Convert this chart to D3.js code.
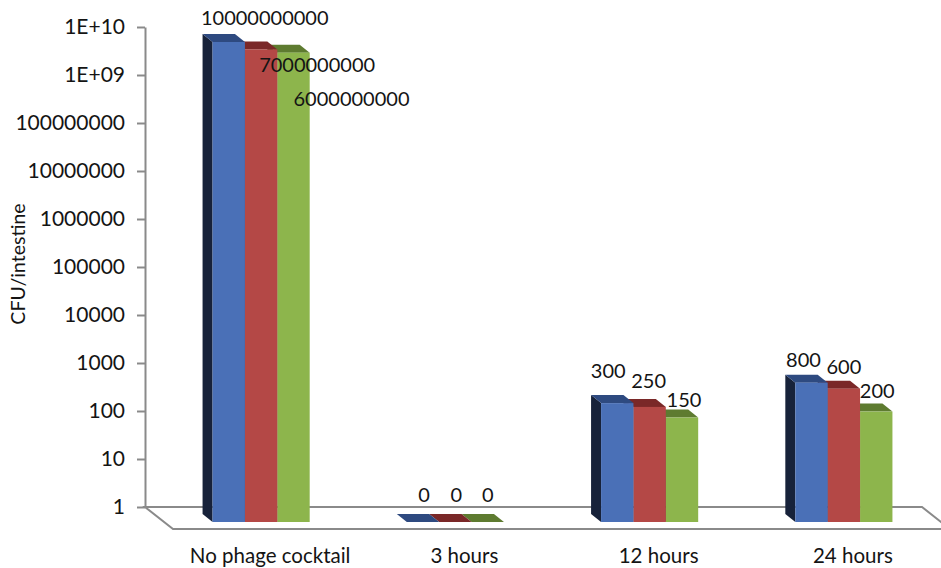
<!DOCTYPE html>
<html>
<head>
<meta charset="utf-8">
<script src="https://cdn.jsdelivr.net/npm/d3@7"></script>
<style>
  body { margin: 0; background: #fff; }
  svg { display: block; }
  text { font-family: Lato, "Open Sans", sans-serif; fill: #141414; }
</style>
</head>
<body>
<svg id="chart" width="941" height="568"></svg>
<script>
// Bacterial counts (CFU per intestine) for three replicate groups
const categories = ["No phage cocktail", "3 hours", "12 hours", "24 hours"];
const replicate1 = [10000000000, 0, 300, 800];
const replicate2 = [7000000000, 0, 250, 600];
const replicate3 = [6000000000, 0, 150, 200];
const seriesValues = [replicate1, replicate2, replicate3];

const tickValues = [1, 10, 100, 1000, 10000, 100000, 1000000, 10000000, 100000000, 1000000000, 10000000000];
const tickLabels = ["1", "10", "100", "1000", "10000", "100000", "1000000", "10000000", "100000000", "1E+09", "1E+10"];

// Data-label nudges [dx, dy] per category, per replicate (crowded labels are pushed aside)
const labelNudge = [
  [[36, -1], [56, 39], [58, 69]],
  [[1, -4], [1, -4], [0, -4]],
  [[-9, -9], [-1, -3], [2, 5]],
  [[-8, 0], [0, 1], [1, 2]]
];

const frontColors = ["#4A70B7", "#B44846", "#8DB54C"];
const topColors   = ["#2E4A80", "#7A2828", "#5E7B30"];
const sideColors  = ["#17223A", "#4A1818", "#3A4D1C"];

const svg = d3.select("#chart");

// Back wall geometry
const wallLeft = 145, wallRight = 922;
const y = d3.scaleLog().domain([1, 1e10]).range([507, 27]);

const x = d3.scaleBand().domain(categories).range([wallLeft, wallRight])
  .paddingInner(0.5).paddingOuter(0.25);
const xs = d3.scaleBand().domain(d3.range(seriesValues.length)).range([0, x.bandwidth()]);

// Oblique projection: floor depth and bar placement within it
const floorDX = 28, floorDY = 22;
const frontDX = 19, frontDY = 15;     // bar front plane relative to back wall
const depthDX = -10, depthDY = -8;    // bar front → bar back

// Floor
const base = y(1);
svg.append("path")
  .attr("d", `M${wallLeft},${base} L${wallRight},${base} L${wallRight + floorDX},${base + floorDY} L${wallLeft + floorDX},${base + floorDY} Z`)
  .attr("fill", "none").attr("stroke", "#8A8A8A").attr("stroke-width", 2);

// Y axis
const yAxis = svg.append("g")
  .attr("transform", `translate(${wallLeft},0)`)
  .call(d3.axisLeft(y).tickValues(tickValues).tickFormat((d, i) => tickLabels[i])
    .tickSize(8).tickSizeOuter(0).tickPadding(12));
yAxis.select(".domain").attr("stroke", "#8A8A8A").attr("stroke-width", 2);
yAxis.selectAll(".tick line").attr("stroke", "#8A8A8A").attr("stroke-width", 2);
yAxis.selectAll(".tick text").attr("font-size", 21).attr("font-family", "Lato, 'Open Sans', sans-serif").attr("fill", "#141414");

// Bars, drawn right to left inside each group so nearer faces overlap correctly
const bars = svg.append("g");
categories.forEach((cat, ci) => {
  for (let si = seriesValues.length - 1; si >= 0; si--) {
    const v = seriesValues[si][ci];
    const fx0 = x(cat) + xs(si) + frontDX;
    const fx1 = fx0 + xs.bandwidth();
    const fyTop = y(Math.max(v, 1)) + frontDY;
    const fyBot = base + frontDY;
    const g = bars.append("g");
    g.append("polygon")
      .attr("points", [[fx0, fyTop], [fx0 + depthDX, fyTop + depthDY], [fx0 + depthDX, fyBot + depthDY], [fx0, fyBot]].join(" "))
      .attr("fill", sideColors[si]);
    g.append("polygon")
      .attr("points", [[fx0, fyTop], [fx1, fyTop], [fx1 + depthDX, fyTop + depthDY], [fx0 + depthDX, fyTop + depthDY]].join(" "))
      .attr("fill", topColors[si]);
    if (fyBot > fyTop) {
      g.append("rect").attr("x", fx0).attr("y", fyTop)
        .attr("width", xs.bandwidth()).attr("height", fyBot - fyTop)
        .attr("fill", frontColors[si]);
    }
  }
});

// Data labels
const labels = svg.append("g").attr("font-size", 20).attr("text-anchor", "middle");
categories.forEach((cat, ci) => {
  seriesValues.forEach((vals, si) => {
    const v = vals[ci];
    const cx = x(cat) + xs(si) + xs.bandwidth() / 2 + frontDX;
    const backTop = y(Math.max(v, 1)) + frontDY + depthDY;
    const [nx, ny] = labelNudge[ci][si];
    labels.append("text")
      .attr("x", cx + nx).attr("y", backTop - 8 + ny)
      .text(String(v));
  });
});

// Category labels along the front edge of the floor
svg.append("g").attr("font-size", 20.5).attr("text-anchor", "middle")
  .selectAll("text").data(categories).join("text")
  .attr("x", d => x(d) + x.bandwidth() / 2 + floorDX)
  .attr("y", 563)
  .text(d => d);

// Y axis title
svg.append("text")
  .attr("transform", "translate(25,264) rotate(-90)")
  .attr("text-anchor", "middle").attr("font-size", 19.5)
  .text("CFU/intestine");
</script>
</body>
</html>
